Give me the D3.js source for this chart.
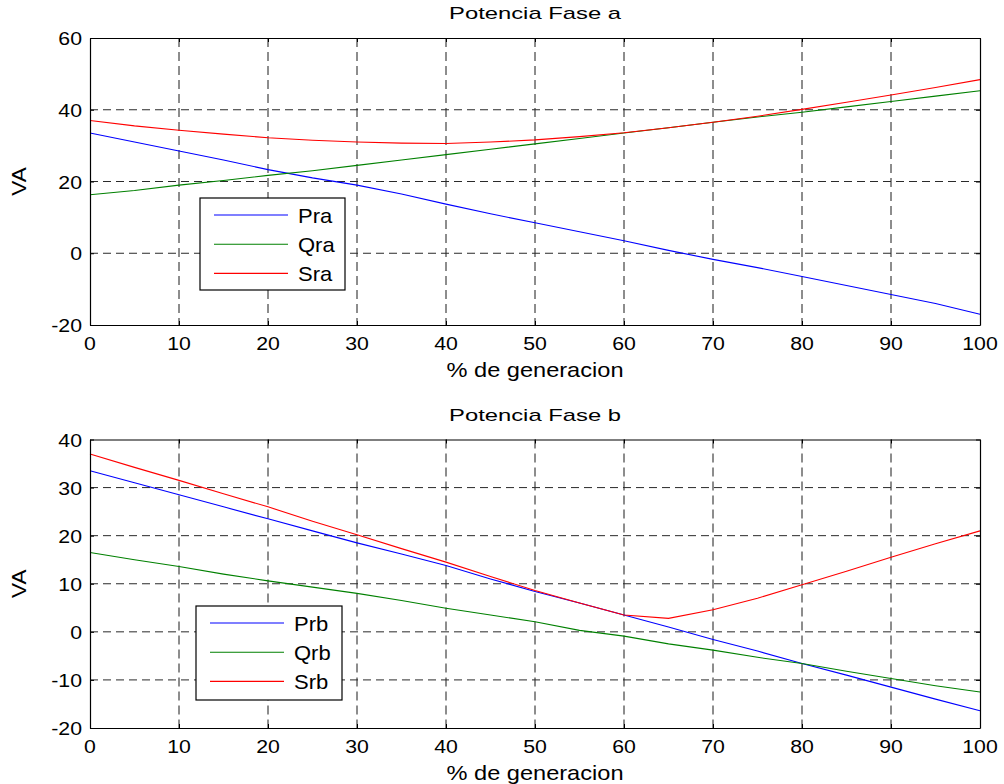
<!DOCTYPE html>
<html>
<head>
<meta charset="utf-8">
<script src="https://cdn.jsdelivr.net/npm/d3@7"></script>
<style>
  body { margin: 0; background: #fff; }
  svg { display: block; font-family: "Liberation Sans", Arial, sans-serif; }
</style>
</head>
<body>
<div id="chart"></div>
<script>
// x values: % de generacion
var pct = [0, 5, 10, 15, 20, 25, 30, 35, 40, 45, 50, 55, 60, 65, 70, 75, 80, 85, 90, 95, 100];

// Fase a
var Pra = [33.5, 31, 28.5, 26, 23.3, 21, 19, 16.5, 13.7, 11, 8.5, 6, 3.5, 0.8, -1.7, -4, -6.5, -9, -11.5, -14, -17];
var Qra = [16.3, 17.5, 19, 20.3, 21.7, 23, 24.5, 26, 27.5, 29, 30.5, 32, 33.5, 35, 36.5, 38, 39.3, 40.8, 42.3, 43.8, 45.3];
var Sra = [37, 35.5, 34.3, 33.2, 32.2, 31.5, 31, 30.7, 30.6, 31, 31.6, 32.5, 33.6, 35, 36.5, 38.2, 40.1, 42.1, 44.1, 46.2, 48.4];

// Fase b
var Prb = [33.5, 31, 28.5, 26, 23.5, 21, 18.5, 16.2, 13.8, 11, 8.4, 6, 3.5, 1, -1.6, -4, -6.6, -9, -11.5, -14, -16.4];
var Qrb = [16.5, 15, 13.6, 12, 10.6, 9.3, 8, 6.5, 4.9, 3.5, 2.1, 0.3, -0.9, -2.5, -3.8, -5.3, -6.6, -8.2, -9.7, -11.2, -12.5];
var Srb = [37, 34.2, 31.5, 28.7, 26, 23, 20.2, 17.3, 14.5, 11.5, 8.6, 6, 3.5, 2.8, 4.6, 7, 9.8, 12.6, 15.5, 18.3, 21];

var xTicks = [0, 10, 20, 30, 40, 50, 60, 70, 80, 90, 100];
var yTicksA = [-20, 0, 20, 40, 60];
var yTicksB = [-20, -10, 0, 10, 20, 30, 40];

var width = 1004, height = 784;
var svg = d3.select("#chart").append("svg").attr("width", width).attr("height", height);

// text with a horizontal stretch, like the original bitmap
function stext(g, x, y, str, size, sx, anchor) {
    return g.append("text")
        .attr("transform", "translate(" + x + "," + y + ") scale(" + sx + ",1)")
        .attr("font-size", size)
        .attr("text-anchor", anchor || "middle")
        .attr("fill", "#000")
        .text(str);
}

function draw_panel(cfg) {
    var left = 90, right = 980;
    var x = d3.scaleLinear().domain([0, 100]).range([left, right]);
    var y = d3.scaleLinear().domain(cfg.ydomain).range([cfg.bottom, cfg.top]);
    var g = svg.append("g");

    // grid
    g.append("g").selectAll("line").data(xTicks.slice(1, -1)).enter().append("line")
        .attr("x1", function(d) { return x(d); }).attr("x2", function(d) { return x(d); })
        .attr("y1", cfg.top).attr("y2", cfg.bottom)
        .attr("stroke", "#1a1a1a").attr("stroke-width", 1).attr("stroke-dasharray", "9,5");
    g.append("g").selectAll("line").data(cfg.yticks.slice(1, -1)).enter().append("line")
        .attr("y1", function(d) { return y(d); }).attr("y2", function(d) { return y(d); })
        .attr("x1", left).attr("x2", right)
        .attr("stroke", "#2a2a2a").attr("stroke-width", 1).attr("stroke-dasharray", "8,5");

    // series
    var line = d3.line().x(function(d, i) { return x(pct[i]); }).y(function(d) { return y(d); });
    cfg.series.forEach(function(s) {
        g.append("path").datum(s.values).attr("d", line)
            .attr("fill", "none").attr("stroke", s.color).attr("stroke-width", 1.1);
    });

    // axes, ticks inward on all sides
    g.append("g").attr("transform", "translate(0," + cfg.bottom + ")")
        .call(d3.axisBottom(x).tickValues(xTicks).tickSizeInner(-4).tickSizeOuter(0).tickFormat(""));
    g.append("g").attr("transform", "translate(0," + cfg.top + ")")
        .call(d3.axisTop(x).tickValues(xTicks).tickSizeInner(-4).tickSizeOuter(0).tickFormat(""));
    g.append("g").attr("transform", "translate(" + left + ",0)")
        .call(d3.axisLeft(y).tickValues(cfg.yticks).tickSizeInner(-4).tickSizeOuter(0).tickFormat(""));
    g.append("g").attr("transform", "translate(" + right + ",0)")
        .call(d3.axisRight(y).tickValues(cfg.yticks).tickSizeInner(-4).tickSizeOuter(0).tickFormat(""));
    g.selectAll(".domain").attr("stroke", "#000").attr("stroke-width", 1.2);
    g.selectAll(".tick line").attr("stroke", "#000");

    // tick labels
    xTicks.forEach(function(d) {
        stext(g, x(d), cfg.bottom + 25, d, 19, 1.12);
    });
    cfg.yticks.forEach(function(d) {
        stext(g, 82, y(d) + 7, d, 19, 1.12, "end");
    });

    // labels
    stext(g, (left + right) / 2, cfg.top - 19, cfg.title, 17, 1.4);
    stext(g, (left + right) / 2, cfg.bottom + 52, "% de generacion", 20, 1.18);
    g.append("text")
        .attr("transform", "translate(26," + (cfg.top + cfg.bottom) / 2 + ") rotate(-90) scale(1.07,1)")
        .attr("font-size", 21).attr("text-anchor", "middle").text("VA");

    // legend
    var L = cfg.legend;
    var lg = g.append("g");
    lg.append("rect").attr("x", L.x).attr("y", L.y).attr("width", L.w).attr("height", L.h)
        .attr("fill", "#fff").attr("stroke", "#000").attr("stroke-width", 1.2);
    cfg.series.forEach(function(s, i) {
        var yy = L.y + 17 + i * 29.2;
        lg.append("line").attr("x1", L.x + 14).attr("x2", L.x + 88).attr("y1", yy).attr("y2", yy)
            .attr("stroke", s.color).attr("stroke-width", 1.1);
        stext(lg, L.x + 98, yy + 7.5, s.name, 20, 1.1, "start");
    });
}

draw_panel({
    top: 38, bottom: 325, ydomain: [-20, 60], yticks: yTicksA,
    title: "Potencia Fase a",
    series: [
        {name: "Pra", values: Pra, color: "#0000ff"},
        {name: "Qra", values: Qra, color: "#008000"},
        {name: "Sra", values: Sra, color: "#ff0000"}
    ],
    legend: {x: 200, y: 198, w: 145, h: 92}
});

draw_panel({
    top: 439.5, bottom: 728, ydomain: [-20, 40], yticks: yTicksB,
    title: "Potencia Fase b",
    series: [
        {name: "Prb", values: Prb, color: "#0000ff"},
        {name: "Qrb", values: Qrb, color: "#008000"},
        {name: "Srb", values: Srb, color: "#ff0000"}
    ],
    legend: {x: 196, y: 606, w: 146, h: 94}
});
</script>
</body>
</html>
